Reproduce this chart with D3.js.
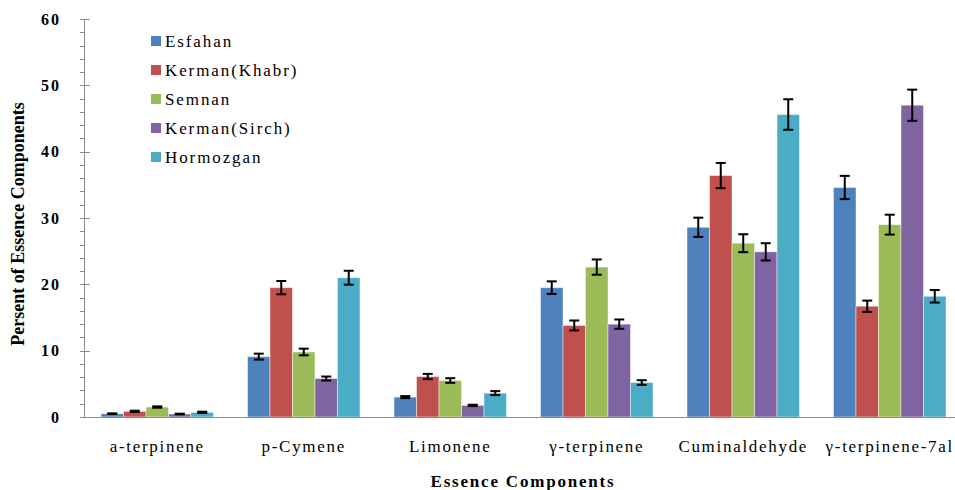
<!DOCTYPE html>
<head>
    <meta charset="utf-8">
    <title>Persent of Essence Components</title>
    <style>
        body {
            margin: 0;
            background: #fff;
        }

        svg text {
            font-family: "Liberation Serif", Tinos, "Times New Roman", Times, "DejaVu Serif", serif;
        }

        .axis path,
        .axis line {
            fill: none;
            stroke: #8c8c8c;
            shape-rendering: crispEdges;
        }

        .y.axis text {
            font-size: 16px;
            font-weight: bold;
            letter-spacing: 2px;
            fill: #000;
        }

        .cat-label {
            font-size: 17px;
            letter-spacing: 1.7px;
        }

        .legend text {
            font-size: 17px;
            letter-spacing: 1.9px;
        }

        .title {
            font-size: 17px;
            font-weight: bold;
        }

        .err line {
            stroke: #000;
            stroke-width: 2px;
        }
    </style>
    <script src="https://d3js.org/d3.v7.min.js"></script>
</head>

<body>
    <script type="text/javascript">
        "use strict";

        const categories = ["a-terpinene", "p-Cymene", "Limonene", "\u03b3-terpinene", "Cuminaldehyde", "\u03b3-terpinene-7al"];
        const seriesNames = ["Esfahan", "Kerman(Khabr)", "Semnan", "Kerman(Sirch)", "Hormozgan"];
        const colorList = ["#4F81BD", "#C0504D", "#9BBB59", "#8064A2", "#4BACC6"];

        // mean values, one array per region (same order as categories)
        const esfahan = [0.5, 9.1, 3.0, 19.5, 28.6, 34.6];
        const kermanKhabr = [0.85, 19.5, 6.1, 13.8, 36.4, 16.7];
        const semnan = [1.5, 9.8, 5.5, 22.6, 26.2, 29.0];
        const kermanSirch = [0.45, 5.8, 1.75, 14.0, 24.9, 47.0];
        const hormozgan = [0.7, 21.0, 3.6, 5.2, 45.6, 18.2];

        // error bar half-lengths
        const errEsfahan = [0.05, 0.45, 0.15, 0.95, 1.45, 1.75];
        const errKermanKhabr = [0.1, 1.0, 0.4, 0.75, 1.9, 0.85];
        const errSemnan = [0.1, 0.5, 0.35, 1.15, 1.35, 1.5];
        const errKermanSirch = [0.05, 0.3, 0.1, 0.7, 1.3, 2.35];
        const errHormozgan = [0.1, 1.05, 0.3, 0.35, 2.3, 0.95];

        const yTicks = [0, 10, 20, 30, 40, 50, 60];

        const seriesValues = [esfahan, kermanKhabr, semnan, kermanSirch, hormozgan];
        const seriesErrors = [errEsfahan, errKermanKhabr, errSemnan, errKermanSirch, errHormozgan];

        const width = 955, height = 490;
        const margin = { top: 19, left: 84, bottom: 73 };
        const plotRight = 963;

        var svg = d3.select("body").append("svg")
            .attr("width", width)
            .attr("height", height);

        var x0 = d3.scaleBand()
            .domain(categories)
            .range([margin.left, plotRight]);

        var x1 = d3.scaleBand()
            .domain(seriesNames)
            .range([0, x0.bandwidth()])
            .paddingOuter(0.756);

        var y = d3.scaleLinear()
            .domain([0, 60])
            .range([height - margin.bottom, margin.top]);

        var color = d3.scaleOrdinal().domain(seriesNames).range(colorList);

        // table: one row per category, one cell per series
        var rows = categories.map(function (c, i) {
            return {
                cat: c,
                cells: seriesNames.map(function (s, j) {
                    return { name: s, value: seriesValues[j][i], err: seriesErrors[j][i] };
                })
            };
        });

        var groups = svg.append("g").selectAll("g")
            .data(rows)
            .enter().append("g")
            .attr("transform", function (d) { return "translate(" + x0(d.cat) + ",0)"; });

        groups.selectAll("rect")
            .data(function (d) { return d.cells; })
            .enter().append("rect")
            .attr("x", function (d) { return x1(d.name); })
            .attr("y", function (d) { return y(d.value); })
            .attr("width", x1.bandwidth())
            .attr("height", function (d) { return y(0) - y(d.value); })
            .attr("fill", function (d) { return color(d.name); })
            .attr("stroke", "rgba(255,255,255,0.45)")
            .attr("stroke-width", 1);

        var err = groups.selectAll("g.err")
            .data(function (d) { return d.cells; })
            .enter().append("g")
            .attr("class", "err")
            .attr("transform", function (d) { return "translate(" + (x1(d.name) + x1.bandwidth() / 2) + ",0)"; });

        err.append("line")
            .attr("x1", 0).attr("x2", 0)
            .attr("y1", function (d) { return y(d.value + d.err); })
            .attr("y2", function (d) { return y(d.value - d.err); });
        err.append("line")
            .attr("x1", -5).attr("x2", 5)
            .attr("y1", function (d) { return y(d.value + d.err); })
            .attr("y2", function (d) { return y(d.value + d.err); });
        err.append("line")
            .attr("x1", -5).attr("x2", 5)
            .attr("y1", function (d) { return y(d.value - d.err); })
            .attr("y2", function (d) { return y(d.value - d.err); });

        // minor ticks every 2
        svg.append("g")
            .attr("class", "axis")
            .attr("transform", "translate(" + margin.left + ",0)")
            .call(d3.axisLeft(y).tickValues(d3.range(0, 61, 2)).tickSize(4).tickFormat(""))
            .select(".domain").remove();

        // major ticks crossing the axis
        svg.append("g")
            .attr("class", "axis")
            .attr("transform", "translate(" + margin.left + ",0)")
            .call(d3.axisRight(y).tickValues(yTicks).tickSize(6).tickFormat(""))
            .select(".domain").remove();

        svg.append("g")
            .attr("class", "y axis")
            .attr("transform", "translate(" + margin.left + ",0)")
            .call(d3.axisLeft(y).tickValues(yTicks).tickSize(4).tickSizeOuter(0).tickPadding(19));

        // x axis line
        svg.append("g")
            .attr("class", "axis")
            .attr("transform", "translate(0," + y(0) + ")")
            .call(d3.axisBottom(x0).tickSize(0).tickFormat(""))
            .selectAll("text").remove();

        svg.append("g").selectAll("text")
            .data(categories)
            .enter().append("text")
            .attr("class", "cat-label")
            .attr("x", function (d) { return x0(d) + x0.bandwidth() / 2; })
            .attr("y", 452)
            .attr("text-anchor", "middle")
            .text(function (d) { return d; });

        svg.append("text")
            .attr("class", "title")
            .attr("x", 523)
            .attr("y", 487)
            .attr("text-anchor", "middle")
            .style("letter-spacing", "1.8px")
            .text("Essence Components");

        svg.append("text")
            .attr("class", "title")
            .attr("transform", "translate(24,224) rotate(-90)")
            .attr("text-anchor", "middle")
            .style("font-size", "18px")
            .text("Persent of Essence Components");

        var legend = svg.append("g")
            .attr("class", "legend")
            .selectAll("g")
            .data(seriesNames)
            .enter().append("g")
            .attr("transform", function (d, i) { return "translate(151," + (41 + i * 29) + ")"; });

        legend.append("rect")
            .attr("x", 0)
            .attr("y", -5)
            .attr("width", 10)
            .attr("height", 10)
            .attr("fill", function (d) { return color(d); });

        legend.append("text")
            .attr("x", 14)
            .attr("y", 6)
            .text(function (d) { return d; });
    </script>
</body>
